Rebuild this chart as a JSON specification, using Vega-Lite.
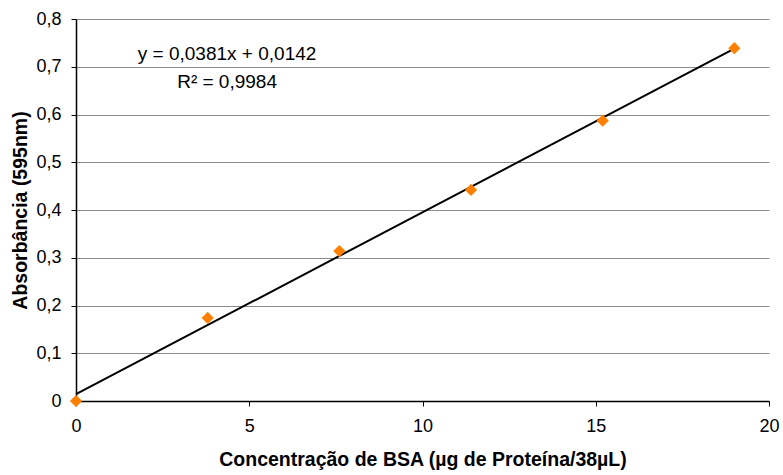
{
  "$schema": "https://vega.github.io/schema/vega-lite/v6.json",
  "width": 693,
  "height": 382,
  "autosize": {"type": "none"},
  "padding": {"left": 76, "top": 19, "right": 14, "bottom": 74},
  "background": "white",
  "config": {
    "view": {"stroke": null},
    "font": "Liberation Sans",
    "axis": {"labelFont": "Liberation Sans", "titleFont": "Liberation Sans", "labelColor": "black", "titleColor": "black", "domainColor": "black", "tickColor": "black", "domainWidth": 1.5, "zindex": 0}
  },
  "datasets": {
    "points": [
      {"conc": 0, "abs": 0.0},
      {"conc": 3.8, "abs": 0.174},
      {"conc": 7.6, "abs": 0.314},
      {"conc": 11.4, "abs": 0.442},
      {"conc": 15.2, "abs": 0.587},
      {"conc": 19, "abs": 0.739}
    ],
    "trend": [
      {"conc": 0, "abs": 0.0142},
      {"conc": 19, "abs": 0.7381}
    ],
    "notes": [
      {"conc": 4.36, "abs": 0.727, "label": "y = 0,0381x + 0,0142"},
      {"conc": 4.36, "abs": 0.669, "label": "R² = 0,9984"}
    ]
  },
  "layer": [
    {
      "data": {"name": "trend"},
      "mark": {"type": "line", "color": "black", "strokeWidth": 2, "clip": false},
      "encoding": {
        "x": {"field": "conc", "type": "quantitative", "scale": {"domain": [0, 20], "nice": false},
          "axis": {"values": [0, 5, 10, 15, 20], "grid": false, "labelFlush": false, "title": "Concentração de BSA (µg de Proteína/38µL)", "titleFontSize": 19.5, "titleFontWeight": "bold", "titlePadding": 15, "labelFontSize": 18, "labelPadding": 11, "tickSize": 5, "zindex": 0}},
        "y": {"field": "abs", "type": "quantitative", "scale": {"domain": [0, 0.8], "nice": false},
          "axis": {"values": [0, 0.1, 0.2, 0.3, 0.4, 0.5, 0.6, 0.7, 0.8], "labelExpr": "datum.value == 0 ? '0' : replace(format(datum.value, '.1f'), '.', ',')", "grid": true, "gridColor": "#8c8c8c", "gridWidth": 1, "title": "Absorbância (595nm)", "titleFontSize": 19.5, "titleFontWeight": "bold", "titlePadding": 5, "labelFontSize": 18, "labelPadding": 10, "tickSize": 5, "zindex": 0}}
      }
    },
    {
      "data": {"name": "points"},
      "mark": {"type": "point", "shape": "diamond", "filled": true, "color": "#FF8000", "size": 150, "opacity": 1, "clip": false},
      "encoding": {
        "x": {"field": "conc", "type": "quantitative"},
        "y": {"field": "abs", "type": "quantitative"}
      }
    },
    {
      "data": {"name": "notes"},
      "mark": {"type": "text", "fontSize": 19, "font": "Liberation Sans", "color": "black", "align": "center", "baseline": "middle"},
      "encoding": {
        "x": {"field": "conc", "type": "quantitative"},
        "y": {"field": "abs", "type": "quantitative"},
        "text": {"field": "label"}
      }
    }
  ]
}
